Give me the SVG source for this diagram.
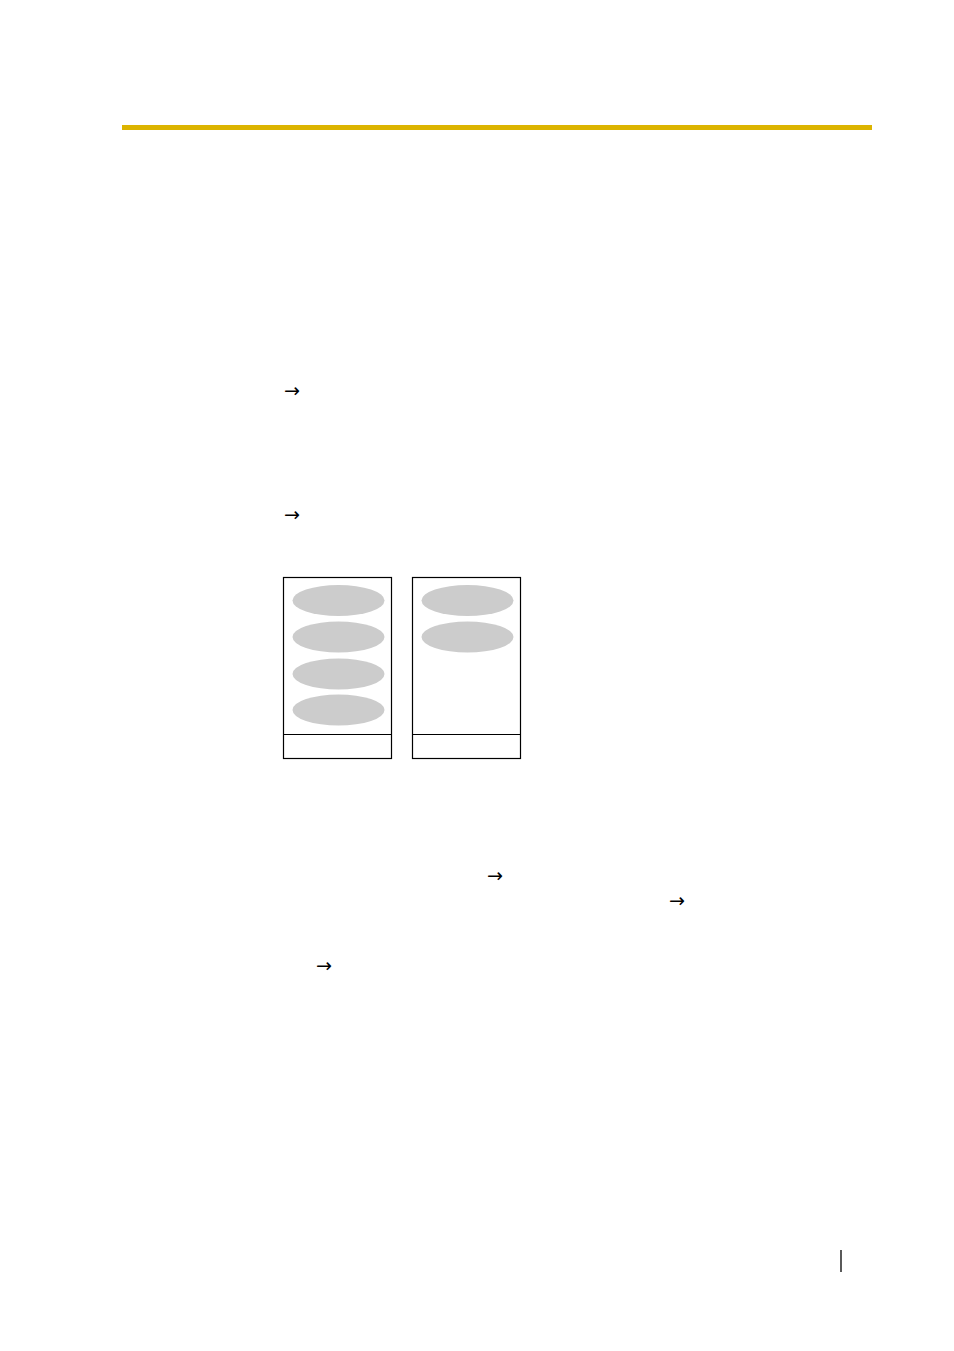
<svg xmlns="http://www.w3.org/2000/svg" width="954" height="1351" viewBox="0 0 954 1351">
<style>
.box{fill:none;stroke:#000;stroke-width:1.2}
.ell{fill:#cccccc}
.arr{font-family:"DejaVu Sans",sans-serif;font-size:19px;fill:#000}
</style>
<rect x="0" y="0" width="954" height="1351" fill="#fff"/>
<rect x="122" y="125" width="750" height="5" fill="#dcb400"/>
<g id="arrows">
<text class="arr" x="284" y="397" textLength="16" lengthAdjust="spacingAndGlyphs">→</text>
<text class="arr" x="284" y="521" textLength="16" lengthAdjust="spacingAndGlyphs">→</text>
<text class="arr" x="487" y="882" textLength="16" lengthAdjust="spacingAndGlyphs">→</text>
<text class="arr" x="669" y="907" textLength="16" lengthAdjust="spacingAndGlyphs">→</text>
<text class="arr" x="316" y="972" textLength="16" lengthAdjust="spacingAndGlyphs">→</text>
</g>
<g id="box-left">
<rect class="box" x="283.5" y="577.5" width="108" height="181"/>
<line class="box" x1="283.5" y1="734.5" x2="391.5" y2="734.5"/>
<ellipse class="ell" cx="338.5" cy="600.5" rx="46" ry="15.5"/>
<ellipse class="ell" cx="338.5" cy="637" rx="46" ry="15.5"/>
<ellipse class="ell" cx="338.5" cy="674" rx="46" ry="15.5"/>
<ellipse class="ell" cx="338.5" cy="710" rx="46" ry="15.5"/>
</g>
<g id="box-right">
<rect class="box" x="412.5" y="577.5" width="108" height="181"/>
<line class="box" x1="412.5" y1="734.5" x2="520.5" y2="734.5"/>
<ellipse class="ell" cx="467.5" cy="600.5" rx="46" ry="15.5"/>
<ellipse class="ell" cx="467.5" cy="637" rx="46" ry="15.5"/>
</g>
<line x1="841" y1="1250" x2="841" y2="1272" stroke="#000" stroke-width="1.3"/>
</svg>
